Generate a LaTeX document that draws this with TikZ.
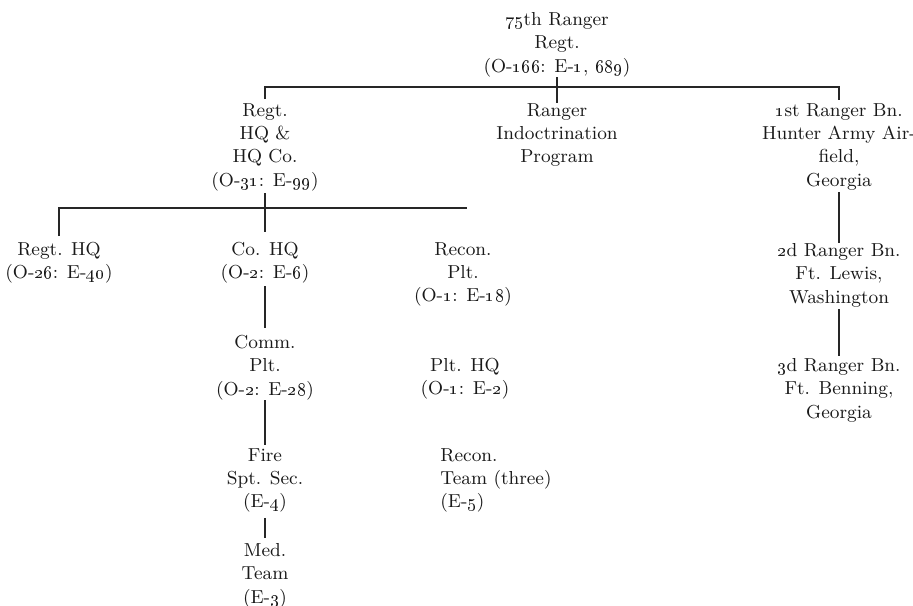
\documentclass[tikz,border=0pt]{standalone}
\usepackage{tikz}
\usetikzlibrary{positioning, calc}

\begin{document}
\begin{tikzpicture}[x=0.5pt, y=-0.5pt,
    unit/.style={anchor=north, inner sep=0pt, align=center,
        font=\fontsize{9.4}{11.65}\selectfont, text=black!90},
    link/.style={line width=0.9pt, draw=black!85}]

    \useasboundingbox (0,0) rectangle (913,605);

    % Regiment at the top
    \node[unit] (regt) at (557,12) {\oldstylenums{75}th Ranger\\Regt.\\(O-\oldstylenums{166}: E-\oldstylenums{1}, \oldstylenums{689})};

    % Second level: HQ company, indoctrination program, battalions
    \node[unit] (hqco) at (265,103) {Regt.\\HQ \&\\HQ Co.\\(O-\oldstylenums{31}: E-\oldstylenums{99})};
    \node[unit] (indoc) at (557,103) {Ranger\\Indoctrination\\Program};
    \node[unit] (bn1) at (839,103) {\oldstylenums{1}st Ranger Bn.\\Hunter Army Air-\\field,\\Georgia};
    \node[unit] (bn2) at (839,243) {\oldstylenums{2}d Ranger Bn.\\Ft. Lewis,\\Washington};
    \node[unit] (bn3) at (839,358) {\oldstylenums{3}d Ranger Bn.\\Ft. Benning,\\Georgia};

    % Third level under the HQ company
    \node[unit] (rhq) at (59,242) {Regt. HQ\\(O-\oldstylenums{26}: E-\oldstylenums{40})};
    \node[unit] (cohq) at (265,242) {Co. HQ\\(O-\oldstylenums{2}: E-\oldstylenums{6})};
    \node[unit] (reconplt) at (463,242) {Recon.\\Plt.\\(O-\oldstylenums{1}: E-\oldstylenums{18})};

    % Platoons and sections
    \node[unit] (comm) at (265,335) {Comm.\\Plt.\\(O-\oldstylenums{2}: E-\oldstylenums{28})};
    \node[unit] (plthq) at (465,358) {Plt. HQ\\(O-\oldstylenums{1}: E-\oldstylenums{2})};
    \node[unit] (fire) at (265,448) {Fire\\Spt. Sec.\\(E-\oldstylenums{4})};
    \node[unit, anchor=north west, align=left] (reconteam) at (440,448) {Recon.\\Team (three)\\(E-\oldstylenums{5})};
    \node[unit] (med) at (265,543) {Med.\\Team\\(E-\oldstylenums{3})};

    % Bus lines
    \coordinate (bus1) at (557,87);
    \coordinate (bus2) at (265,208);
    \coordinate (bus2end) at (467,208);

    % Regiment down to its units
    \draw[link] (regt.south) -- (indoc.north);
    \draw[link, shorten <=2pt, shorten >=1.5pt] (hqco.north) -- (hqco.north |- bus1) -- (bn1.north |- bus1) -- (bn1.north);

    % Battalion chain
    \draw[link, shorten <=1pt] (bn1.south) -- (bn2.north);
    \draw[link, shorten <=1pt, shorten >=1pt] (bn2.south) -- (bn3.north);

    % HQ company down to its sections
    \draw[link, shorten <=1pt, shorten >=5pt] (hqco.south) -- (cohq.north);
    \draw[link, shorten <=3pt] (rhq.north) -- (rhq.north |- bus2) -- (bus2end);
    \draw[link, shorten <=1pt, shorten >=3.5pt] (cohq.south) -- (comm.north);
    \draw[link, shorten >=1.5pt] (comm.south) -- (fire.north);
    \draw[link, shorten <=2.5pt, shorten >=2.5pt] (fire.south) -- (med.north);

\end{tikzpicture}
\end{document}
